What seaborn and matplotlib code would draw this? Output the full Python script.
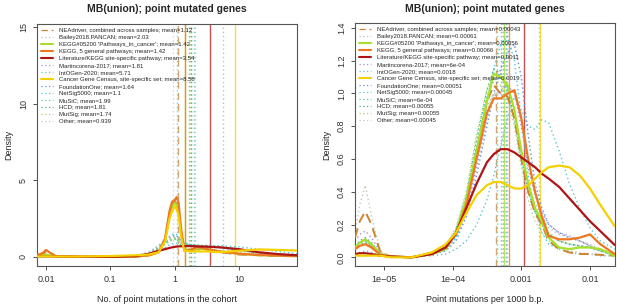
import numpy as np
import pandas as pd
import matplotlib
matplotlib.use("Agg")
import matplotlib.pyplot as plt
import seaborn as sns

# series names, styles by series
names = ["NEAdriver, combined across samples", "Bailey2018.PANCAN",
         "KEGG#05200 'Pathways_in_cancer'", "KEGG, 5 general pathways",
         "Literature/KEGG site-specific pathway", "Martincorena-2017",
         "IntOGen-2020", "Cancer Gene Census, site-specific set",
         "FoundationOne", "NetSig5000", "MuSiC", "HCD", "MutSig", "Other"]
colors = ["#CC8430", "#B8C4A8", "#A6E02A", "#EE7722", "#B01515", "#A98BD8",
          "#5CC8D0", "#F5D000", "#5B8FE0", "#40D0E8", "#48C8B0", "#3CB090",
          "#A8D860", "#C8C8B8"]
styles = ["dashed", "dotted", "solid", "solid", "solid", "dotted", "dotted",
          "solid", "dotted", "dotted", "dotted", "dotted", "dotted", "dotted"]

left_means = [1.12, 2.03, 1.42, 1.42, 3.54, 1.81, 5.71, 8.58, 1.64, 1.1, 1.99, 1.81, 1.74, 0.939]
left_mean_txt = ["1.12", "2.03", "1.42", "1.42", "3.54", "1.81", "5.71", "8.58",
                 "1.64", "1.1", "1.99", "1.81", "1.74", "0.939"]
right_means = [0.00043, 0.00061, 0.00056, 0.00066, 0.0011, 6e-4, 0.0018, 0.0019,
               0.00051, 0.00045, 6e-4, 0.00055, 0.00055, 0.00045]
right_mean_txt = ["0.00043", "0.00061", "0.00056", "0.00066", "0.0011", "6e-04",
                  "0.0018", "0.0019", "0.00051", "0.00045", "6e-04", "0.00055",
                  "0.00055", "0.00045"]

# left panel: log10(no. of point mutations) grid and densities
left_logx = [-2.14, -2.05, -2.0, -1.95, -1.85, -1.5, -1.0, -0.6, -0.4, -0.25, -0.15, -0.08, -0.04,
             0.0, 0.03, 0.06, 0.1, 0.15, 0.25, 0.35, 0.5, 0.7, 1.0, 1.3, 1.6, 1.9]
left_dens = {
    "NEAdriver, combined across samples": [0.1, 0.2, 0.3, 0.2, 0.05, 0.0, 0.0, 0.02, 0.1, 0.3, 1.1, 2.8, 3.4, 3.6, 3.5, 3.1, 1.6, 0.5, 0.4, 0.5, 0.45, 0.3, 0.15, 0.1, 0.05, 0.03],
    "Bailey2018.PANCAN": [0.03, 0.05, 0.06, 0.05, 0.02, 0.0, 0.0, 0.03, 0.2, 0.5, 0.8, 1.0, 1.1, 1.15, 1.1, 1.0, 0.9, 0.8, 0.7, 0.68, 0.65, 0.6, 0.45, 0.28, 0.14, 0.07],
    "KEGG#05200 'Pathways_in_cancer'": [0.05, 0.1, 0.15, 0.1, 0.03, 0.0, 0.0, 0.02, 0.1, 0.3, 1.1, 2.7, 3.3, 3.5, 3.4, 3.0, 1.5, 0.5, 0.45, 0.55, 0.5, 0.35, 0.2, 0.12, 0.08, 0.05],
    "KEGG, 5 general pathways": [0.1, 0.25, 0.45, 0.3, 0.05, 0.0, 0.0, 0.02, 0.1, 0.3, 1.2, 3.0, 3.6, 3.7, 3.9, 3.5, 1.8, 0.4, 0.45, 0.65, 0.5, 0.35, 0.2, 0.12, 0.08, 0.05],
    "Literature/KEGG site-specific pathway": [0.02, 0.03, 0.03, 0.03, 0.02, 0.01, 0.0, 0.05, 0.2, 0.4, 0.5, 0.58, 0.62, 0.65, 0.67, 0.68, 0.69, 0.7, 0.7, 0.68, 0.66, 0.62, 0.5, 0.3, 0.18, 0.1],
    "Martincorena-2017": [0.04, 0.06, 0.08, 0.06, 0.02, 0.0, 0.0, 0.04, 0.25, 0.6, 0.9, 1.1, 1.2, 1.25, 1.2, 1.1, 0.95, 0.85, 0.75, 0.7, 0.65, 0.6, 0.45, 0.25, 0.12, 0.06],
    "IntOGen-2020": [0.02, 0.03, 0.04, 0.03, 0.01, 0.0, 0.0, 0.03, 0.15, 0.4, 0.6, 0.8, 0.85, 0.9, 0.88, 0.85, 0.8, 0.78, 0.75, 0.75, 0.75, 0.72, 0.65, 0.5, 0.35, 0.2],
    "Cancer Gene Census, site-specific set": [0.02, 0.03, 0.03, 0.03, 0.02, 0.02, 0.05, 0.1, 0.15, 0.3, 1.0, 2.5, 3.0, 3.3, 3.1, 2.7, 1.3, 0.4, 0.35, 0.35, 0.35, 0.3, 0.4, 0.48, 0.45, 0.41],
    "FoundationOne": [0.03, 0.05, 0.06, 0.05, 0.02, 0.0, 0.0, 0.04, 0.3, 0.7, 1.0, 1.25, 1.35, 1.4, 1.35, 1.25, 1.05, 0.9, 0.75, 0.7, 0.65, 0.6, 0.42, 0.25, 0.12, 0.06],
    "NetSig5000": [0.03, 0.05, 0.06, 0.05, 0.02, 0.0, 0.0, 0.05, 0.3, 0.75, 1.1, 1.35, 1.45, 1.5, 1.45, 1.3, 1.1, 0.95, 0.8, 0.72, 0.68, 0.6, 0.42, 0.24, 0.12, 0.06],
    "MuSiC": [0.03, 0.05, 0.06, 0.05, 0.02, 0.0, 0.0, 0.04, 0.2, 0.55, 0.85, 1.05, 1.12, 1.15, 1.12, 1.05, 0.95, 0.85, 0.78, 0.75, 0.72, 0.66, 0.5, 0.3, 0.15, 0.08],
    "HCD": [0.03, 0.05, 0.06, 0.05, 0.02, 0.0, 0.0, 0.04, 0.22, 0.6, 0.9, 1.1, 1.2, 1.22, 1.18, 1.1, 0.95, 0.85, 0.78, 0.74, 0.7, 0.64, 0.48, 0.28, 0.14, 0.07],
    "MutSig": [0.03, 0.05, 0.06, 0.05, 0.02, 0.0, 0.0, 0.04, 0.2, 0.55, 0.85, 1.05, 1.15, 1.2, 1.15, 1.05, 0.92, 0.82, 0.76, 0.72, 0.68, 0.62, 0.46, 0.27, 0.13, 0.07],
    "Other": [0.05, 0.08, 0.1, 0.08, 0.03, 0.0, 0.0, 0.05, 0.3, 0.7, 1.0, 1.2, 1.3, 1.3, 1.2, 1.05, 0.85, 0.7, 0.6, 0.55, 0.5, 0.42, 0.28, 0.15, 0.07, 0.03],
}

# right panel: log10(point mutations per 1000 b.p.)
right_logx = [-5.42, -5.35, -5.27, -5.18, -5.05, -4.9, -4.6, -4.3, -4.1, -3.95, -3.8, -3.65, -3.5,
              -3.4, -3.3, -3.2, -3.1, -3.0, -2.9, -2.8, -2.7, -2.6, -2.45, -2.3, -2.15, -2.0, -1.85, -1.64]
right_dens = {
    "NEAdriver, combined across samples": [0.12, 0.22, 0.28, 0.2, 0.03, 0.005, 0.0, 0.02, 0.06, 0.15, 0.35, 0.65, 0.95, 1.05, 1.0, 0.98, 0.85, 0.6, 0.4, 0.27, 0.2, 0.1, 0.05, 0.03, 0.02, 0.02, 0.015, 0.01],
    "Bailey2018.PANCAN": [0.05, 0.08, 0.1, 0.07, 0.02, 0.005, 0.0, 0.03, 0.07, 0.16, 0.36, 0.66, 0.92, 1.0, 1.02, 0.98, 0.85, 0.62, 0.45, 0.33, 0.25, 0.18, 0.14, 0.12, 0.1, 0.08, 0.05, 0.02],
    "KEGG#05200 'Pathways_in_cancer'": [0.06, 0.09, 0.11, 0.08, 0.02, 0.005, 0.0, 0.02, 0.05, 0.15, 0.35, 0.65, 0.95, 1.12, 1.1, 1.05, 0.9, 0.65, 0.45, 0.3, 0.22, 0.12, 0.06, 0.05, 0.06, 0.06, 0.05, 0.01],
    "KEGG, 5 general pathways": [0.05, 0.07, 0.08, 0.06, 0.015, 0.005, 0.0, 0.02, 0.06, 0.14, 0.32, 0.6, 0.88, 0.97, 0.97, 1.0, 1.02, 0.85, 0.6, 0.4, 0.25, 0.13, 0.11, 0.11, 0.12, 0.14, 0.08, 0.02],
    "Literature/KEGG site-specific pathway": [0.02, 0.025, 0.025, 0.02, 0.01, 0.005, 0.0, 0.02, 0.06, 0.15, 0.3, 0.45, 0.58, 0.63, 0.66, 0.66, 0.64, 0.61, 0.58, 0.55, 0.51, 0.48, 0.43, 0.36, 0.29, 0.22, 0.16, 0.075],
    "Martincorena-2017": [0.1, 0.14, 0.16, 0.12, 0.03, 0.005, 0.0, 0.03, 0.05, 0.12, 0.28, 0.55, 0.85, 0.98, 1.02, 1.05, 1.0, 0.8, 0.55, 0.38, 0.28, 0.2, 0.15, 0.13, 0.1, 0.07, 0.04, 0.02],
    "IntOGen-2020": [0.02, 0.03, 0.04, 0.03, 0.01, 0.0, 0.0, 0.01, 0.02, 0.05, 0.1, 0.2, 0.35, 0.5, 0.68, 0.85, 0.98, 0.9, 0.8, 0.78, 0.84, 0.82, 0.65, 0.45, 0.3, 0.18, 0.1, 0.05],
    "Cancer Gene Census, site-specific set": [0.01, 0.01, 0.01, 0.01, 0.01, 0.0, 0.0, 0.03, 0.08, 0.15, 0.27, 0.38, 0.44, 0.46, 0.46, 0.44, 0.42, 0.42, 0.44, 0.48, 0.52, 0.55, 0.56, 0.55, 0.5, 0.42, 0.32, 0.19],
    "FoundationOne": [0.07, 0.1, 0.12, 0.09, 0.02, 0.005, 0.0, 0.02, 0.04, 0.1, 0.25, 0.5, 0.8, 1.0, 1.15, 1.25, 1.3, 1.1, 0.75, 0.45, 0.3, 0.2, 0.15, 0.12, 0.1, 0.07, 0.04, 0.02],
    "NetSig5000": [0.06, 0.09, 0.1, 0.08, 0.02, 0.005, 0.0, 0.02, 0.04, 0.12, 0.3, 0.6, 0.95, 1.15, 1.3, 1.35, 1.2, 0.85, 0.5, 0.28, 0.15, 0.08, 0.05, 0.03, 0.02, 0.02, 0.01, 0.01],
    "MuSiC": [0.05, 0.07, 0.09, 0.07, 0.02, 0.005, 0.0, 0.03, 0.06, 0.15, 0.35, 0.68, 0.98, 1.08, 1.1, 1.05, 0.9, 0.65, 0.42, 0.28, 0.2, 0.15, 0.1, 0.08, 0.07, 0.06, 0.04, 0.01],
    "HCD": [0.05, 0.07, 0.09, 0.07, 0.02, 0.005, 0.0, 0.03, 0.07, 0.17, 0.38, 0.72, 1.02, 1.15, 1.12, 1.02, 0.85, 0.6, 0.4, 0.28, 0.2, 0.14, 0.1, 0.08, 0.07, 0.06, 0.04, 0.01],
    "MutSig": [0.05, 0.08, 0.1, 0.07, 0.02, 0.005, 0.0, 0.03, 0.07, 0.18, 0.4, 0.75, 1.02, 1.1, 1.05, 0.98, 0.82, 0.58, 0.4, 0.28, 0.2, 0.14, 0.1, 0.08, 0.07, 0.06, 0.04, 0.01],
    "Other": [0.15, 0.32, 0.44, 0.25, 0.04, 0.005, 0.0, 0.02, 0.05, 0.14, 0.33, 0.62, 0.9, 1.0, 1.0, 0.95, 0.8, 0.55, 0.35, 0.22, 0.15, 0.1, 0.06, 0.04, 0.03, 0.02, 0.01, 0.01],
}

sns.set_style("ticks")
plt.rcParams["font.family"] = ["Liberation Sans", "DejaVu Sans"]

fig = plt.figure(figsize=(6.17, 3.05), dpi=100)
ax1 = fig.add_axes([37 / 617, 39 / 305, 260 / 617, 242 / 305])
ax2 = fig.add_axes([355 / 617, 39 / 305, 260 / 617, 243 / 305])


def draw(ax, logx, dens, means, mean_txt):
    xs = 10 ** np.array(logx)
    for i, name in enumerate(names):
        solid = styles[i] == "solid"
        lw = 1.6 if solid else 1.0
        if styles[i] == "dashed":
            ls, lw = (0, (5, 3)), 1.4
        elif styles[i] == "dotted":
            ls = (0, (1, 2))
        else:
            ls = "-"
        z = 3 if styles[i] != "dotted" else 2
        sns.lineplot(x=xs, y=dens[name], ax=ax, color=colors[i], linestyle=ls,
                     linewidth=lw, zorder=z, label=f"{name}; mean={mean_txt[i]}")
        ax.axvline(means[i], color=colors[i], linestyle=ls, linewidth=1.0,
                   alpha=0.75, zorder=1)
    ax.set_xscale("log")
    for s in ax.spines.values():
        s.set_visible(True)
        s.set_color("#555555")
        s.set_linewidth(0.8)
    ax.tick_params(labelsize=6.5, length=3, width=0.6, colors="#333333")
    ax.set_ylabel("Density", fontsize=6.5, labelpad=4)
    leg = ax.legend(loc="upper left", fontsize=4.3, frameon=False, handlelength=2.0,
                    labelspacing=0.3, borderaxespad=0.25, handletextpad=1.0)
    for h in leg.get_lines():
        h.set_linewidth(1.5 if h.get_linestyle() == "-" else 0.9)


draw(ax1, left_logx, left_dens, left_means, left_mean_txt)
ax1.set_xlim(10 ** -2.14, 10 ** 1.9)
ax1.set_ylim(-0.6, 15.2)
ax1.set_yticks([0, 5, 10, 15])
ax1.set_yticklabels(["0", "5", "10", "15"], rotation=90, va="center")
ax1.set_xticks([0.01, 0.1, 1, 10])
ax1.set_xticklabels(["0.01", "0.1", "1", "10"])
ax1.minorticks_off()
ax1.set_xlabel("No. of point mutations in the cohort", fontsize=6.5, labelpad=8)

draw(ax2, right_logx, right_dens, right_means, right_mean_txt)
ax2.set_xlim(10 ** -5.42, 10 ** -1.636)
ax2.set_ylim(-0.053, 1.43)
ax2.set_yticks([0.0, 0.2, 0.4, 0.6, 0.8, 1.0, 1.2, 1.4])
ax2.set_yticklabels(["0.0", "0.2", "0.4", "0.6", "0.8", "1.0", "1.2", "1.4"], rotation=90, va="center")
ax2.set_xticks([1e-5, 1e-4, 1e-3, 1e-2])
ax2.set_xticklabels(["1e\u221205", "1e\u221204", "0.001", "0.01"])
ax2.minorticks_off()
ax2.set_xlabel("Point mutations per 1000 b.p.", fontsize=6.5, labelpad=8)

fig.text(167 / 617, 1 - 12 / 305, "MB(union); point mutated genes", ha="center",
         fontsize=7.5, fontweight="bold")
fig.text(485 / 617, 1 - 12 / 305, "MB(union); point mutated genes", ha="center",
         fontsize=7.5, fontweight="bold")

fig.savefig("out.png", dpi=100)
